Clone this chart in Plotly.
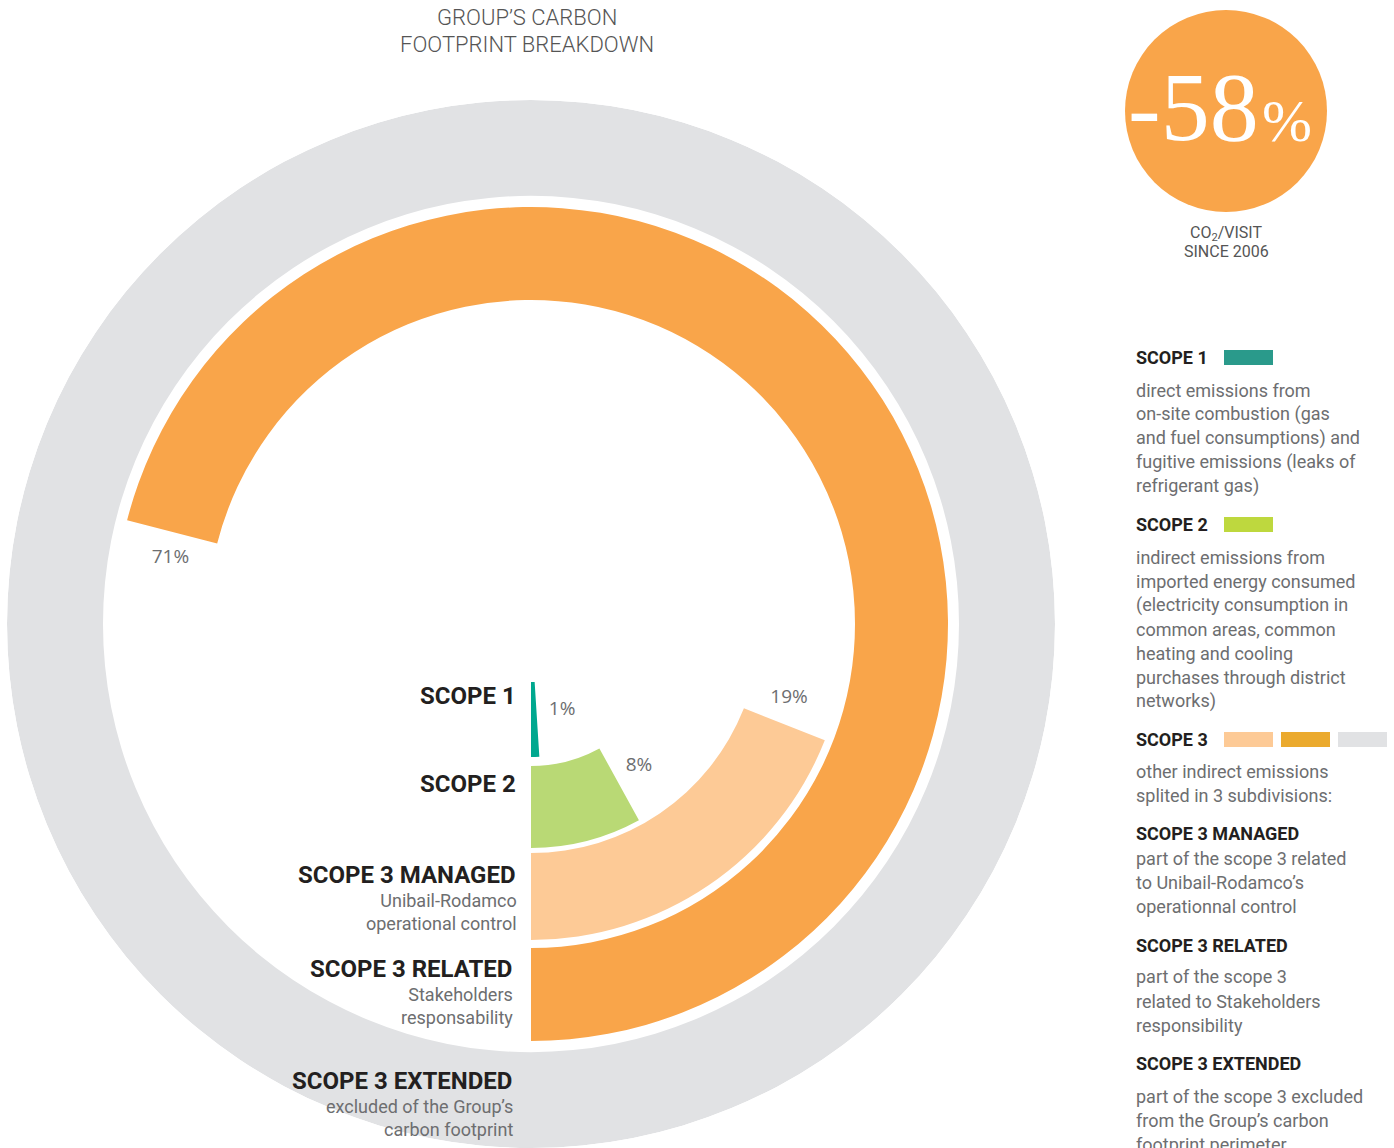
import math
import plotly.graph_objects as go

W, H = 1394, 1148

# ---- data -------------------------------------------------------------
# nested arcs, from the innermost ring outwards
scope_names = ["SCOPE 1", "SCOPE 2", "SCOPE 3 MANAGED", "SCOPE 3 RELATED", "SCOPE 3 EXTENDED"]
scope_shares = [1, 8, 19, 71, 100]          # percent of a full turn
share_labels = ["1%", "8%", "19%", "71%", ""]
scope_subtitles = [[], [], ["Unibail-Rodamco", "operational control"],
                   ["Stakeholders", "responsability"],
                   ["excluded of the Group\u2019s", "carbon footprint"]]

headline_value = "-58"
headline_unit = "%"
headline_caption = ["CO<sub>2</sub>/VISIT", "SINCE 2006"]

legend_blocks = [
    ("SCOPE 1", ["direct emissions from", "on-site combustion (gas",
                 "and fuel consumptions) and", "fugitive emissions (leaks of",
                 "refrigerant gas)"]),
    ("SCOPE 2", ["indirect emissions from", "imported energy consumed",
                 "(electricity consumption in", "common areas, common",
                 "heating and cooling", "purchases through district", "networks)"]),
    ("SCOPE 3", ["other indirect emissions", "splited in 3 subdivisions:"]),
    ("SCOPE 3 MANAGED", ["part of the scope 3 related", "to Unibail-Rodamco\u2019s",
                         "operationnal control"]),
    ("SCOPE 3 RELATED", ["part of the scope 3", "related to Stakeholders",
                         "responsibility"]),
    ("SCOPE 3 EXTENDED", ["part of the scope 3 excluded", "from the Group\u2019s carbon",
                          "footprint perimeter"]),
]

# ---- styling ----------------------------------------------------------
arc_colors = ["#00A88F", "#B9D975", "#FDCA96", "#F9A54A", "#E1E2E4"]
ring_inner = [58, 142, 229, 324, 428]
ring_outer = [133, 224, 316, 417, 524]
legend_swatches = {"SCOPE 1": ["#2A9A8B"], "SCOPE 2": ["#BED83E"],
                   "SCOPE 3": ["#FDCA96", "#EBAA2E", "#E1E2E4"]}

DARK = "#231F20"
GREY = "#6D6E70"
CX, CY, R = 531, 624, 524


def px(x):
    return x / W


def py(y):
    return 1 - y / H


fig = go.Figure()

# rings (outermost first so inner ones sit on top)
for i in reversed(range(len(scope_names))):
    span = scope_shares[i] * 3.6
    fig.add_trace(go.Barpolar(
        theta=[span / 2], width=[span],
        base=[ring_inner[i]], r=[ring_outer[i] - ring_inner[i]],
        marker=dict(color=arc_colors[i], line=dict(width=0)),
        hoverinfo="skip", name=scope_names[i],
    ))

# percentage labels just past the end of each arc
lab_r, lab_t, lab_s = [], [], []
for i, lab in enumerate(share_labels):
    if not lab:
        continue
    mid = (ring_inner[i] + ring_outer[i]) / 2 - 4
    lab_r.append(mid)
    lab_t.append(scope_shares[i] * 3.6 + math.degrees(26 / mid))
    lab_s.append(lab)
fig.add_trace(go.Scatterpolar(
    r=lab_r, theta=lab_t, text=lab_s, mode="text",
    textfont=dict(family="Open Sans", size=19, color=GREY),
    hoverinfo="skip",
))

fig.update_layout(
    width=W, height=H,
    margin=dict(l=0, r=0, t=0, b=0),
    paper_bgcolor="white",
    showlegend=False,
    polar=dict(
        domain=dict(x=[px(CX - R), px(CX + R)], y=[py(CY + R), py(CY - R)]),
        bgcolor="rgba(0,0,0,0)",
        radialaxis=dict(range=[0, R], visible=False, showgrid=False),
        angularaxis=dict(rotation=270, direction="counterclockwise",
                         visible=False, showgrid=False),
    ),
)

ann = []
shapes = []


def text(x, y, s, size, color, anchor="left", bold=False, family="Roboto", weight=None):
    # small nudge so the glyphs (not the annotation box) sit on x
    if anchor == "left":
        x -= 2
    elif anchor == "right":
        x += 3
    ann.append(dict(
        x=px(x), y=py(y), xref="paper", yref="paper", text=s, showarrow=False,
        xanchor=anchor, yanchor="middle", align=anchor if anchor != "center" else "center",
        font=dict(family=family, size=size, color=color,
                  weight=weight if weight else (700 if bold else 400)),
    ))


# title
text(527, 18, "GROUP\u2019S CARBON", 22, "#555555", anchor="center", weight=300)
text(527, 45, "FOOTPRINT BREAKDOWN", 22, "#555555", anchor="center", weight=300)

# ring captions on the left
caption_y = [696, 784, 875, 969, 1081]
caption_x = [515, 515, 515, 511, 511]
for i, name in enumerate(scope_names):
    text(caption_x[i], caption_y[i], name, 24, DARK, anchor="right", bold=True)
    sub = scope_subtitles[i]
    if sub:
        text(caption_x[i] + 1, caption_y[i] + 37, "<br>".join(sub), 18, GREY, anchor="right")

# headline bubble
shapes.append(dict(type="circle", xref="paper", yref="paper",
                   x0=px(1125), x1=px(1327), y0=py(212), y1=py(10),
                   fillcolor="#F9A54A", line=dict(width=0), layer="below"))
text(1258, 107, headline_value, 98, "white", anchor="right", family="Liberation Serif")
text(1262, 121, headline_unit, 60, "white", anchor="left", family="Liberation Serif")
text(1226, 233, headline_caption[0], 16, "#555555", anchor="center")
text(1226, 252, headline_caption[1], 16, "#555555", anchor="center")

# legend on the right
heading_y = [357, 524, 739, 833, 945, 1063]
first_line_gap = [33, 33, 32, 25, 32, 33]
for (head, lines), hy, gap in zip(legend_blocks, heading_y, first_line_gap):
    text(1136, hy, head, 18, DARK, bold=True)
    for k, line in enumerate(lines):
        text(1136, hy + gap + 24 * k, line, 18, GREY)
    for j, col in enumerate(legend_swatches.get(head, [])):
        x0 = 1224 + 57 * j
        shapes.append(dict(type="rect", xref="paper", yref="paper",
                           x0=px(x0), x1=px(x0 + 49), y0=py(hy + 8), y1=py(hy - 7),
                           fillcolor=col, line=dict(width=0)))

fig.update_layout(annotations=ann, shapes=shapes)
fig.write_html("out.html")
